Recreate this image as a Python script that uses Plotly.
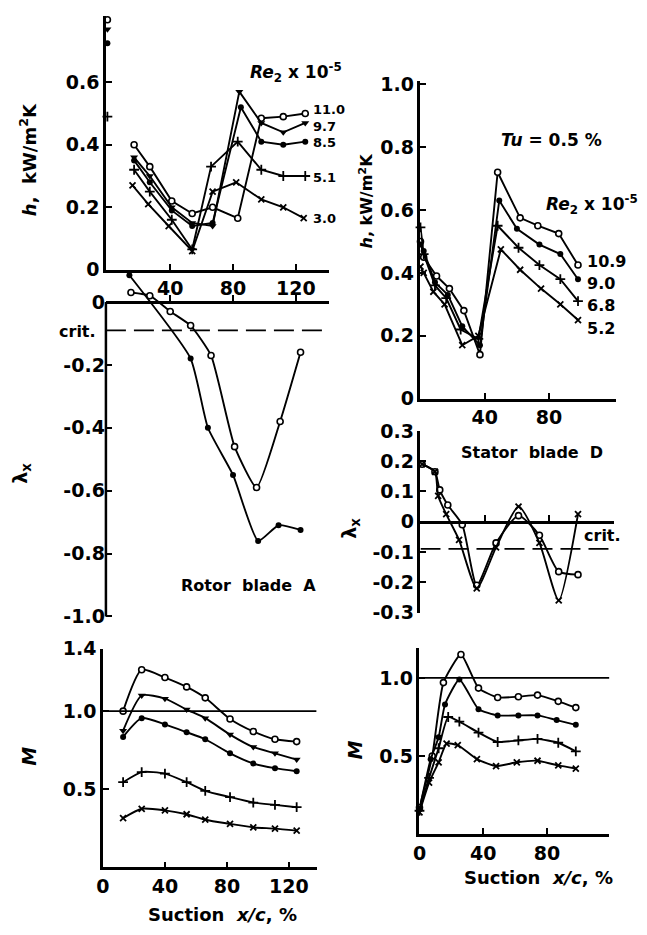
import plotly.graph_objects as go

W, H = 647, 935

# ---------------- data ----------------
# Rotor blade A : heat transfer coefficient h (kW/m2K) vs x/c (%)
re_rotor = ["11.0", "9.7", "8.5", "5.1", "3.0"]
hA_x_110 = [17, 27, 41, 54, 67, 83, 98, 112, 126]
hA_110 = [0.40, 0.33, 0.22, 0.18, 0.20, 0.165, 0.485, 0.49, 0.50]
hA_x_97 = [17, 27, 41, 54, 67, 84, 98, 112, 126]
hA_97 = [0.36, 0.30, 0.20, 0.15, 0.14, 0.57, 0.47, 0.44, 0.47]
hA_x_85 = [17, 27, 41, 54, 67, 85, 98, 112, 126]
hA_85 = [0.35, 0.28, 0.19, 0.14, 0.15, 0.52, 0.41, 0.40, 0.41]
hA_x_51 = [17, 27, 41, 54, 66, 83, 98, 112, 126]
hA_51 = [0.32, 0.25, 0.16, 0.065, 0.33, 0.41, 0.32, 0.30, 0.30]
hA_x_30 = [16, 26, 39, 54, 67, 82, 98, 112, 125]
hA_30 = [0.27, 0.21, 0.14, 0.06, 0.25, 0.28, 0.225, 0.20, 0.165]
hA_le = [0.80, 0.77, 0.725, 0.49]          # leading-edge values (x/c = 0)

# Rotor blade A : lambda_x
lamA_x_open = [15, 27, 40, 53, 66, 81, 95, 110, 123]
lamA_open = [0.03, 0.02, -0.03, -0.075, -0.17, -0.46, -0.59, -0.38, -0.16]
lamA_x_fill = [14, 53, 64, 80, 96, 109, 123]
lamA_fill = [0.085, -0.18, -0.40, -0.55, -0.76, -0.71, -0.725]
lam_crit = -0.09

# Rotor blade A : Mach number
MA_x = [13, 25, 40, 54, 66, 82, 97, 111, 125]
MA_110 = [1.00, 1.265, 1.215, 1.155, 1.085, 0.95, 0.87, 0.82, 0.805]
MA_97 = [0.875, 1.10, 1.08, 1.01, 0.955, 0.85, 0.77, 0.73, 0.69]
MA_85 = [0.835, 0.955, 0.915, 0.865, 0.82, 0.73, 0.665, 0.635, 0.615]
MA_51 = [0.545, 0.61, 0.60, 0.545, 0.49, 0.45, 0.415, 0.40, 0.385]
MA_30 = [0.315, 0.375, 0.365, 0.34, 0.305, 0.278, 0.256, 0.248, 0.235]

# Stator blade D : h
re_stator = ["10.9", "9.0", "6.8", "5.2"]
hD_x_109 = [0, 2, 10, 18, 27, 37, 48, 62, 73, 86, 98]
hD_109 = [0.50, 0.45, 0.39, 0.35, 0.28, 0.14, 0.72, 0.575, 0.55, 0.525, 0.425]
hD_x_90 = [0, 2, 9, 17, 26, 37, 49, 60, 74, 87, 98]
hD_90 = [0.49, 0.47, 0.37, 0.33, 0.23, 0.17, 0.63, 0.54, 0.49, 0.46, 0.38]
hD_x_68 = [0, 2, 9, 16, 25, 36, 48, 61, 74, 87, 98]
hD_68 = [0.545, 0.46, 0.36, 0.32, 0.22, 0.19, 0.55, 0.48, 0.425, 0.38, 0.31]
hD_x_52 = [0, 2, 8, 15, 26, 36, 50, 62, 75, 87, 98]
hD_52 = [0.42, 0.40, 0.34, 0.30, 0.17, 0.20, 0.475, 0.41, 0.35, 0.30, 0.25]

# Stator blade D : lambda_x
lamD_x_open = [1, 9, 12, 17, 26, 35, 47, 61, 74, 86, 98]
lamD_open = [0.19, 0.165, 0.105, 0.055, -0.01, -0.21, -0.07, 0.02, -0.045, -0.165, -0.175]
lamD_x_x = [1, 9, 11, 16, 24, 35, 47, 61, 74, 86, 98]
lamD_x = [0.19, 0.165, 0.085, 0.025, -0.06, -0.22, -0.085, 0.05, -0.07, -0.26, 0.025]

# Stator blade D : Mach number
MD_x_109 = [0, 8, 15, 26, 37, 49, 62, 74, 87, 98]
MD_109 = [0.17, 0.50, 0.97, 1.15, 0.935, 0.875, 0.88, 0.89, 0.85, 0.81]
MD_x_90 = [0, 7, 12, 16, 25, 37, 49, 62, 74, 86, 98]
MD_90 = [0.16, 0.48, 0.62, 0.83, 0.99, 0.80, 0.76, 0.76, 0.76, 0.73, 0.70]
MD_x_68 = [0, 6, 12, 18, 25, 37, 49, 62, 74, 87, 98]
MD_68 = [0.15, 0.36, 0.55, 0.75, 0.72, 0.65, 0.59, 0.60, 0.61, 0.585, 0.53]
MD_x_52 = [0, 6, 12, 17, 24, 36, 48, 61, 74, 87, 98]
MD_52 = [0.14, 0.33, 0.46, 0.58, 0.57, 0.48, 0.435, 0.46, 0.47, 0.44, 0.42]

# ---------------- layout helpers ----------------
FONT = "DejaVu Sans"
BLACK = "black"


def lin(p, pa, va, pb, vb):
    return va + (p - pa) * (vb - va) / (pb - pa)


def inv(v, pa, va, pb, vb):
    return pa + (v - va) * (pb - pa) / (vb - va)


def fx(px):
    return px / W


def fy(py):
    return 1 - py / H


# panel: (x domain px, x calibration, y domain px (top,bottom), y calibration)
P = {
    "A": ((100, 326), (101.5, 0, 292, 120), (5, 265), (265, 0, 73, 0.6)),
    "B": ((100, 326), (101.5, 0, 292, 120), (262, 622), (298, 0, 620, -1.0)),
    "C": ((97, 313), (97, 0, 285, 120), (653, 877), (877, 0, 717, 1.0)),
    "D": ((418, 616), (418, 0, 483, 40), (72, 397), (397, 0, 75, 1.0)),
    "E": ((418, 614), (418, 0, 483, 40), (430, 617), (523, 0, 430, 0.3)),
    "F": ((417, 609), (417, 0, 546, 80), (652, 843), (843, 0, 683, 1.0)),
}
AX = {"A": "", "B": "2", "C": "3", "D": "4", "E": "5", "F": "6"}

fig = go.Figure()

tickfont = dict(family=FONT, size=19, color=BLACK, weight="bold")


def setup(key, xtv, xtt, ytv, ytt, x_free=None, yline=True):
    xd, xc, yd, yc = P[key]
    n = AX[key]
    xr = [lin(xd[0], *xc), lin(xd[1], *xc)]
    yr = [lin(yd[1], *yc), lin(yd[0], *yc)]
    xa = dict(domain=[fx(xd[0]), fx(xd[1])], range=xr, showgrid=False, zeroline=False,
              showline=True, linecolor=BLACK, linewidth=2.5, ticks="inside", ticklen=6,
              tickwidth=2, tickcolor=BLACK, tickvals=xtv, ticktext=xtt,
              showticklabels=xtt is not None, tickfont=tickfont, anchor="y" + n)
    if x_free is not None:
        xa["anchor"] = "free"
        xa["position"] = fy(inv(x_free, *yc))
    ya = dict(domain=[fy(yd[1]), fy(yd[0])], range=yr, showgrid=False, zeroline=False,
              showline=yline, linecolor=BLACK, linewidth=2.5, ticks="inside", ticklen=6,
              tickwidth=2, tickcolor=BLACK, tickvals=ytv, ticktext=ytt,
              tickfont=tickfont, anchor="x" + n)
    fig.update_layout(**{"xaxis" + n: xa, "yaxis" + n: ya})
    return xr, yr


def mk(kind):
    if kind == "open":
        return dict(symbol="circle", size=6, color="white", line=dict(width=1.6, color=BLACK))
    if kind == "fill":
        return dict(symbol="circle", size=6, color=BLACK, line=dict(width=0, color=BLACK))
    if kind == "tri":
        return dict(symbol="triangle-down", size=7, color=BLACK, line=dict(width=0, color=BLACK))
    if kind == "plus":
        return dict(symbol="cross-thin-open", size=7, color=BLACK,
                    line=dict(width=1.8, color=BLACK))
    return dict(symbol="x-thin-open", size=6, color=BLACK, line=dict(width=1.8, color=BLACK))


def add(key, x, y, kind, shape="linear", smoothing=0.6):
    n = AX[key]
    line = dict(color=BLACK, width=1.9, shape=shape)
    if shape == "spline":
        line["smoothing"] = smoothing
    fig.add_trace(go.Scatter(x=x, y=y, mode="lines+markers", line=line, marker=mk(kind),
                             xaxis="x" + n, yaxis="y" + n, showlegend=False, cliponaxis=False))


def fmt(v):
    if v == 0:
        return "0"
    return ("-" if v < 0 else "") + f"{abs(v):.1f}"


# ---------- axes ----------
setup("A", [40, 80, 120], ["40", "80", "120"], [0, 0.2, 0.4, 0.6], ["0", "0.2", "0.4", "0.6"])
lamA_ticks = [0, -0.2, -0.4, -0.6, -0.8, -1.0]
xrB, yrB = setup("B", [40, 80, 120], None, lamA_ticks, [fmt(v) for v in lamA_ticks],
                 x_free=0, yline=False)
xrC, yrC = setup("C", [0, 40, 80, 120], ["0", "40", "80", "120"], [0.5, 1.0, 1.4],
                 ["0.5", "1.0", "1.4"])
setup("D", [40, 80], ["40", "80"], [0, 0.2, 0.4, 0.6, 0.8, 1.0],
      ["0", "0.2", "0.4", "0.6", "0.8", "1.0"])
lamD_ticks = [0.3, 0.2, 0.1, 0, -0.1, -0.2, -0.3]
xrE, yrE = setup("E", [40, 80], None, lamD_ticks, [fmt(v) for v in lamD_ticks], x_free=0)
xrF, yrF = setup("F", [0, 40, 80], ["0", "40", "80"], [0.5, 1.0], ["0.5", "1.0"])

# ---------- traces ----------
kinds5 = ["open", "tri", "fill", "plus", "x"]
hA_xs = [hA_x_110, hA_x_97, hA_x_85, hA_x_51, hA_x_30]
hA_ys = [hA_110, hA_97, hA_85, hA_51, hA_30]
for xs, ys, k in zip(hA_xs, hA_ys, kinds5):
    add("A", xs, ys, k)
for v, k in zip(hA_le, kinds5):
    fig.add_trace(go.Scatter(x=[0], y=[v], mode="markers", marker=mk(k), xaxis="x",
                             yaxis="y", showlegend=False, cliponaxis=False))

add("B", lamA_x_open, lamA_open, "open", "spline", 0.5)
add("B", lamA_x_fill, lamA_fill, "fill", "spline", 0.5)

for ys, k in zip([MA_110, MA_97, MA_85, MA_51, MA_30], kinds5):
    add("C", MA_x, ys, k, "spline", 0.6)

kinds4 = ["open", "fill", "plus", "x"]
for xs, ys, k in zip([hD_x_109, hD_x_90, hD_x_68, hD_x_52], [hD_109, hD_90, hD_68, hD_52], kinds4):
    add("D", xs, ys, k)

add("E", lamD_x_open, lamD_open, "open", "spline", 0.6)
add("E", lamD_x_x, lamD_x, "x", "spline", 0.6)

for xs, ys, k in zip([MD_x_109, MD_x_90, MD_x_68, MD_x_52], [MD_109, MD_90, MD_68, MD_52], kinds4):
    add("F", xs, ys, k, "spline", 0.5)

# ---------- reference lines ----------
shapes = []
xdB, xcB, ydB, ycB = P["B"]
shapes.append(dict(type="line", xref="paper", yref="paper", x0=fx(xdB[0]), x1=fx(xdB[0]),
                   y0=fy(inv(0, *ycB)), y1=fy(inv(-1.0, *ycB)),
                   line=dict(color=BLACK, width=2.5)))
shapes.append(dict(type="line", xref="x2", yref="y2", x0=xrB[0], x1=xrB[1], y0=lam_crit,
                   y1=lam_crit, line=dict(color=BLACK, width=1.8, dash="20px,8px")))
shapes.append(dict(type="line", xref="x5", yref="y5", x0=xrE[0], x1=xrE[1], y0=lam_crit,
                   y1=lam_crit, line=dict(color=BLACK, width=1.8, dash="20px,8px")))
shapes.append(dict(type="line", xref="x3", yref="y3", x0=xrC[0], x1=xrC[1], y0=1.0, y1=1.0,
                   line=dict(color=BLACK, width=1.8)))
shapes.append(dict(type="line", xref="x6", yref="y6", x0=xrF[0], x1=xrF[1], y0=1.0, y1=1.0,
                   line=dict(color=BLACK, width=1.8)))

# ---------- text ----------
ann = []


def text(t, px, py, size=17, xanchor="left", angle=0):
    ann.append(dict(text=t, x=fx(px), y=fy(py), xref="paper", yref="paper", showarrow=False,
                    xanchor=xanchor, yanchor="middle", textangle=angle,
                    font=dict(family=FONT, size=size, color=BLACK, weight="bold")))


text("<i>Re</i><sub>2</sub> x 10<sup>-5</sup>", 244, 63, 17)
for lab, py in zip(re_rotor, [101, 118, 135, 170, 213]):
    text(lab, 307, py, 13)
text("<i>Tu</i> = 0.5 %", 497, 132, 17)
text("<i>Re</i><sub>2</sub> x 10<sup>-5</sup>", 543, 198, 17)
for lab, py in zip(re_stator, [257, 279, 302, 325]):
    text(lab, 584, py, 16)
text("crit.", 92, 328, 16, "right")
text("crit.", 581, 537, 16)
text("Rotor  blade  A", 174, 588, 16)
text("Stator  blade  D", 457, 452, 16)
text("<i>h</i>,  kW/m<sup>2</sup>K", 22, 152, 18, "center", -90)
text("<i>h</i>, kW/m<sup>2</sup>K", 363, 195, 16, "center", -90)
text("λ<sub>x</sub>", 15, 473, 19, "center", -90)
text("λ<sub>x</sub>", 347, 530, 19, "center", -90)
text("<i>M</i>", 22, 763, 19, "center", -90)
text("<i>M</i>", 352, 757, 19, "center", -90)
text("Suction  <i>x/c</i>, %", 218, 925, 18, "center")
text("Suction  <i>x/c</i>, %", 537, 887, 18, "center")

fig.update_layout(width=W, height=H, autosize=False, margin=dict(l=0, r=0, t=0, b=0),
                  paper_bgcolor="white", plot_bgcolor="rgba(0,0,0,0)", shapes=shapes,
                  annotations=ann, showlegend=False)

fig.write_html("out.html")
